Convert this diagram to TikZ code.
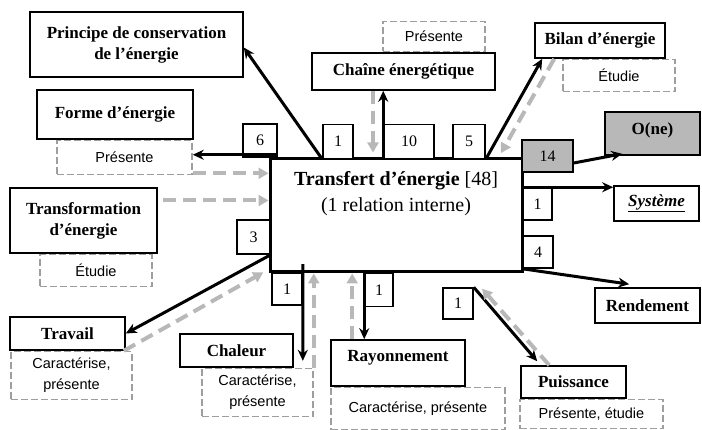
\documentclass[tikz,border=0pt]{standalone}
\usepackage{fontspec}
\setmainfont{Liberation Serif}
\setsansfont{Liberation Sans}
\usetikzlibrary{arrows.meta}

\definecolor{notegray}{gray}{0.62}
\definecolor{linkgray}{gray}{0.72}
\definecolor{boxgray}{gray}{0.72}
\newcommand{\topicfont}[0]{\fontsize{17}{21}\selectfont\bfseries}
\newcommand{\titlefont}[0]{\fontsize{20}{26}\selectfont}
\newcommand{\countfont}[0]{\fontsize{16}{18}\selectfont}
\newcommand{\notefont}[0]{\fontsize{14.5}{21}\selectfont\sffamily}
\tikzstyle{dedge} = [-{Stealth[length=11pt,width=10pt]},line width=3pt,draw=black]
\tikzstyle{gedge} = [-{Triangle[length=10pt,width=11pt]},line width=4pt,draw=linkgray,dash pattern=on 13pt off 7pt]
\tikzstyle{base}=[
  rectangle,
  align=center,
  anchor=center,
  inner sep=0pt,
]
\tikzstyle{topic}=[
  base,
  draw=black,
  line width=1.6pt,
  fill=white,
  font=\topicfont,
]
\tikzstyle{note}=[
  base,
  draw=notegray,
  line width=1.5pt,
  dash pattern=on 7pt off 3pt,
  font=\notefont,
]
\tikzstyle{count}=[
  base,
  draw=black,
  line width=1.5pt,
  fill=white,
  font=\countfont,
]

\begin{document}
\begin{tikzpicture}[x=1pt,y=-1pt]
  \useasboundingbox (0,0) rectangle (702,430);

  % central theme
  \node[base, draw=black, line width=3pt, fill=white, minimum width=252pt, minimum height=113pt] (transfert) at (396,215.5) {};
  \node[base, font=\titlefont] (transferttext) at ([yshift=-36pt] transfert.north)
    {\textbf{Transfert d’énergie} [48]\\(1 relation interne)};

  % linked themes
  \node[topic, minimum width=213pt, minimum height=65pt] (principe) at (136.5,44.5) {Principe de conservation\\de l’énergie};
  \node[topic, minimum width=156pt, minimum height=49pt] (forme) at (115,114.5) {Forme d’énergie};
  \node[note, anchor=north, minimum width=135pt, minimum height=34pt] (formenote) at ([xshift=9.5pt] forme.south) {Présente};
  \node[topic, minimum width=147pt, minimum height=65pt] (transfo) at (83.5,220.5) {Transformation\\d’énergie};
  \node[note, anchor=north, minimum width=112pt, minimum height=32pt] (transfonote) at ([xshift=12.5pt] transfo.south) {Étudie};
  \node[topic, minimum width=115pt, minimum height=33pt] (travail) at (67.5,333.5) {Travail};
  \node[note, anchor=north, minimum width=121pt, minimum height=48pt] (travailnote) at ([xshift=4pt] travail.south) {Caractérise,\\présente};
  \node[topic, minimum width=113pt, minimum height=33pt] (chaleur) at (236.5,350.5) {Chaleur};
  \node[note, anchor=north, minimum width=111pt, minimum height=48pt] (chaleurnote) at ([xshift=21pt] chaleur.south) {Caractérise,\\présente};
  \node[topic, minimum width=134pt, minimum height=46pt, text depth=14pt] (rayon) at (398,363) {Rayonnement};
  \node[note, anchor=north, minimum width=174pt, minimum height=42pt] (rayonnote) at ([xshift=20pt] rayon.south) {Caractérise, présente};
  \node[topic, minimum width=105pt, minimum height=32pt] (puissance) at (573.5,382) {Puissance};
  \node[note, anchor=north, minimum width=143pt, minimum height=29pt] (puissancenote) at ([xshift=18pt] puissance.south) {Présente, étudie};
  \node[topic, minimum width=105pt, minimum height=35pt] (rendement) at (647.5,305.5) {Rendement};
  \node[topic, minimum width=85pt, minimum height=35pt] (systeme) at (656.5,203.5) {\underline{\textit{Système}}};
  \node[topic, fill=boxgray, minimum width=95pt, minimum height=43pt, text depth=10pt] (one) at (652.5,133.5) {O(ne)};
  \node[topic, minimum width=130pt, minimum height=35pt] (bilan) at (600,40.5) {Bilan d’énergie};
  \node[note, anchor=north, minimum width=112pt, minimum height=32pt] (bilannote) at ([xshift=19pt] bilan.south) {Étudie};
  \node[topic, minimum width=183pt, minimum height=37pt] (chaine) at (403.5,71.5) {Chaîne énergétique};
  \node[note, anchor=south, minimum width=102pt, minimum height=30pt] (chainenote) at ([xshift=30.5pt] chaine.north) {Présente};

  % counts
  \node[count, minimum width=34pt, minimum height=33pt] (cforme) at (260,140.5) {6};
  \node[count, minimum width=30pt, minimum height=34pt] (cprincipe) at (338,141.5) {1};
  \node[count, minimum width=50pt, minimum height=34pt] (cchaine) at (409,141.5) {10};
  \node[count, minimum width=32pt, minimum height=34pt] (cbilan) at (469,141.5) {5};
  \node[count, minimum width=33pt, minimum height=34pt] (ctravail) at (253.5,237) {3};
  \node[count, minimum width=29pt, minimum height=32pt] (csysteme) at (537.5,204) {1};
  \node[count, minimum width=30pt, minimum height=32pt] (crendement) at (538,252) {4};
  \node[count, fill=boxgray, minimum width=51pt, minimum height=32pt] (cone) at (547.5,156) {14};
  \node[count, minimum width=30pt, minimum height=32pt] (cchaleur) at (287,289) {1};
  \node[count, minimum width=28pt, minimum height=33pt] (crayon) at (379,290) {1};
  \node[count, minimum width=30pt, minimum height=31pt] (cpuissance) at (458,303.5) {1};

  % free ends
  \coordinate (chainein) at ([xshift=-30.5pt] chaine.south);
  \coordinate (formeout) at ([yshift=3pt] cforme.south east);
  \coordinate (formein) at ([yshift=2pt] formenote.south east);
  \coordinate (transfoin) at ([xshift=5pt, yshift=20pt] transfo.east);
  \coordinate (heatout) at ([yshift=8pt] cchaleur.north east);
  \coordinate (rayonin) at ([xshift=22pt] rayon.north west);

  % links
  \draw[dedge] (cprincipe.south west) -- ([yshift=-3pt] principe.east);
  \draw[dedge] (cchaine.south west) -- (cchaine.south west |- chaine.south);
  \draw[gedge, shorten >=5pt] (chainein) -- (chainein |- transfert.north);
  \draw[dedge] (cbilan.south east) -- ([xshift=8pt] bilan.south west);
  \draw[gedge, shorten >=5pt] ([xshift=20pt] bilan.south west) -- ([xshift=-25pt] transfert.north east);
  \draw[dedge] (formeout) -- (formeout -| formenote.east);
  \draw[gedge] (formein) -- (formein -| transfert.west);
  \draw[gedge] (transfoin) -- (transfoin -| transfert.west);
  \draw[dedge] (ctravail.south east) -- (travail.east);
  \draw[gedge, shorten >=6pt] ([xshift=-2pt] travail.south east) -- ([yshift=4pt] transfert.south west);
  \draw[dedge] (heatout) -- ([xshift=9pt, yshift=7pt] chaleur.south east);
  \draw[gedge] (chaleurnote.north east) -- (chaleurnote.north east |- transfert.south);
  \draw[gedge] (rayonin) -- (rayonin |- transfert.south);
  \draw[dedge] (crayon.north west) -- (crayon.north west |- rayon.north);
  \draw[dedge] (cpuissance.north east) -- ([xshift=17pt, yshift=4pt] puissance.north west);
  \draw[gedge, shorten >=2pt] ([xshift=29pt] puissance.north west) -- ([xshift=7pt] cpuissance.north east);
  \draw[dedge] (crendement.south west) -- ([xshift=35pt, yshift=3pt] rendement.north west);
  \draw[dedge] (csysteme.north west) -- (csysteme.north west -| systeme.west);
  \draw[dedge] ([yshift=-7pt] cone.east) -- ([xshift=18pt, yshift=2pt] one.south west);
\end{tikzpicture}
\end{document}
